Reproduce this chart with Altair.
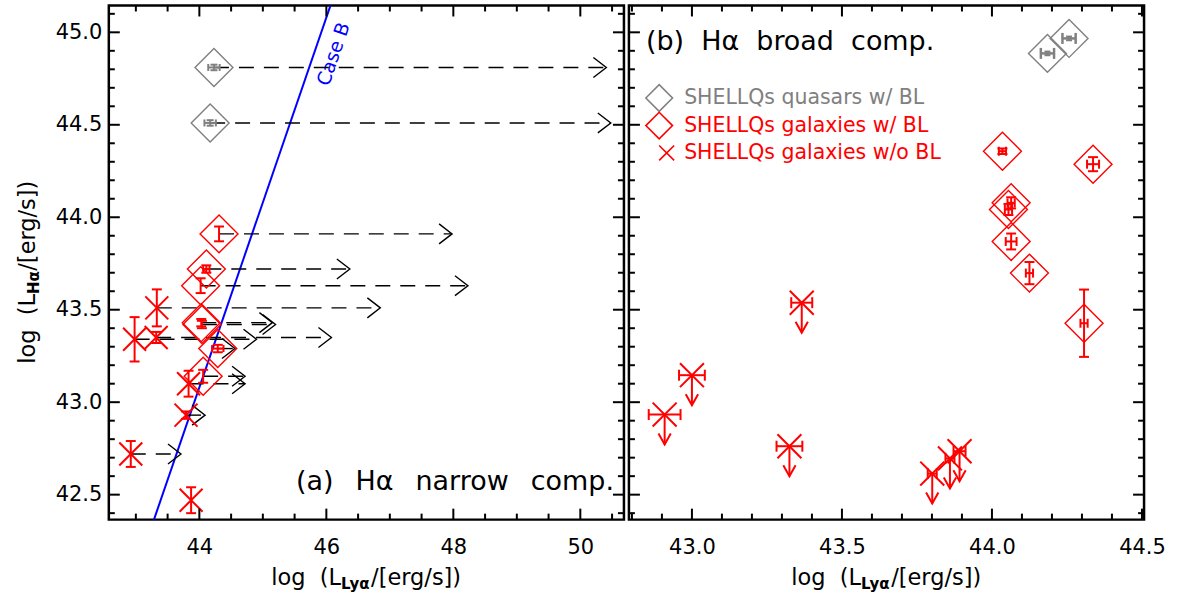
import altair as alt
import pandas as pd

# ---------------- panel (a): H-alpha narrow component ----------------
qso_a_lya = [44.23, 44.17]
qso_a_lya_err = [0.09, 0.09]
qso_a_ha = [44.81, 44.51]
qso_a_ha_err = [0.015, 0.015]
qso_a_lya_corr = [50.41, 50.48]

gbl_a_lya = [44.31, 44.11, 44.02, 44.04, 44.03, 44.29, 44.06]
gbl_a_lya_err = [0.0, 0.05, 0.0, 0.0, 0.0, 0.09, 0.0]
gbl_a_ha = [43.91, 43.72, 43.63, 43.42, 43.43, 43.29, 43.14]
gbl_a_ha_err = [0.04, 0.02, 0.04, 0.02, 0.02, 0.02, 0.035]
gbl_a_lya_corr = [47.98, 46.37, 48.23, 45.20, 45.15, 44.56, 44.72]

gnb_a_lya = [43.33, 42.98, 43.32, 43.83, 43.79, 42.92, 43.87]
gnb_a_ha = [43.51, 43.34, 43.35, 43.10, 42.93, 42.72, 42.47]
gnb_a_ha_err = [0.10, 0.12, 0.03, 0.07, 0.02, 0.07, 0.07]
gnb_a_lya_corr = [46.85, 44.90, 46.08, 44.72, 44.09, 43.71, None]

caseb_lya = [43.0, 46.5]
caseb_ha = [42.08, 45.58]

# ---------------- panel (b): H-alpha broad component ----------------
qso_b_lya = [44.185, 44.257]
qso_b_lya_err = [0.022, 0.022]
qso_b_ha = [44.886, 44.967]
qso_b_ha_err = [0.01, 0.01]

gbl_b_lya = [44.035, 44.337, 44.064, 44.055, 44.064, 44.125, 44.307]
gbl_b_lya_err = [0.012, 0.02, 0.012, 0.012, 0.018, 0.012, 0.012]
gbl_b_ha = [44.357, 44.287, 44.078, 44.042, 43.869, 43.698, 43.427]
gbl_b_ha_err = [0.015, 0.038, 0.03, 0.03, 0.043, 0.06, 0.182]

gnb_b_lya = [42.909, 43.000, 43.366, 43.325, 43.801, 43.860, 43.892]
gnb_b_lya_err = [0.053, 0.043, 0.035, 0.043, 0.015, 0.015, 0.02]
gnb_b_ha_ul = [42.933, 43.146, 43.538, 42.762, 42.614, 42.696, 42.735]

# ---------------- axes ----------------
xa_domain = [42.574, 50.687]
xb_domain = [42.79, 44.507]
y_domain = [42.365, 45.145]
xa_major = [44, 46, 48, 50]
xa_minor = [43.0, 43.5, 44.5, 45.0, 45.5, 46.5, 47.0, 47.5, 48.5, 49.0, 49.5, 50.5]
xb_major = [43.0, 43.5, 44.0, 44.5]
xb_minor = [42.8, 42.9, 43.1, 43.2, 43.3, 43.4, 43.6, 43.7, 43.8, 43.9,
            44.1, 44.2, 44.3, 44.4]
y_major = [42.5, 43.0, 43.5, 44.0, 44.5, 45.0]
y_minor = [42.4, 42.6, 42.7, 42.8, 42.9, 43.1, 43.2, 43.3, 43.4, 43.6, 43.7,
           43.8, 43.9, 44.1, 44.2, 44.3, 44.4, 44.6, 44.7, 44.8, 44.9, 45.1]

# ---------------- styles ----------------
W, H = 516, 515
RED, GRAY, BLUE, BLACK = "#ff0000", "#808080", "#0000ff", "#000000"
FONT = "DejaVu Sans"
X_SHAPE = "M-1,-1L1,1M-1,1L1,-1"
RIGHT_HEAD = "M-1,-0.77L0,0L-1,0.77"
DOWN_HEAD = "M-0.56,-1L0,0L0.56,-1"
UL_LEN = 0.162
NB = "\u00a0"
EN = "\u2002"

sy = alt.Scale(domain=y_domain, nice=False, zero=False)


def axis_x(values, fmt):
    return alt.Axis(values=values, format=fmt, title=None, ticks=False, tickSize=0,
                    domain=False, grid=False, labelPadding=28, labelBaseline="middle",
                    labelFontSize=21, labelFont=FONT, labelColor=BLACK, labelFlush=False)


ax_y = alt.Axis(values=y_major, format=".1f", title=None, ticks=False, tickSize=0,
                domain=False, grid=False, labelPadding=7, labelFontSize=21,
                labelFont=FONT, labelColor=BLACK, labelFlush=False)


class Panel:
    def __init__(self, xdom, xaxis, yaxis):
        self.sx = alt.Scale(domain=xdom, nice=False, zero=False)
        self.xaxis = xaxis
        self.yaxis = yaxis

    def X(self, f):
        return alt.X(f, type="quantitative", scale=self.sx, axis=self.xaxis)

    def Y(self, f):
        return alt.Y(f, type="quantitative", scale=sy, axis=self.yaxis)


def v_err(p, d, x, y, e, color, cap, sw=2.0):
    d = d[d[e] > 0].copy()
    d["lo"] = d[y] - d[e]
    d["hi"] = d[y] + d[e]
    bar = alt.Chart(d).mark_rule(color=color, strokeWidth=sw).encode(
        x=p.X(x), y=p.Y("lo"), y2="hi")
    caps = pd.DataFrame({x: list(d[x]) * 2, "v": list(d["lo"]) + list(d["hi"])})
    tk = alt.Chart(caps).mark_tick(orient="horizontal", size=cap, thickness=sw,
                                   color=color, opacity=1).encode(x=p.X(x), y=p.Y("v"))
    return [bar, tk]


def h_err(p, d, x, y, e, color, cap, sw=2.0):
    d = d[d[e] > 0].copy()
    d["lo"] = d[x] - d[e]
    d["hi"] = d[x] + d[e]
    bar = alt.Chart(d).mark_rule(color=color, strokeWidth=sw).encode(
        x=p.X("lo"), x2="hi", y=p.Y(y))
    caps = pd.DataFrame({y: list(d[y]) * 2, "v": list(d["lo"]) + list(d["hi"])})
    tk = alt.Chart(caps).mark_tick(orient="vertical", size=cap, thickness=sw,
                                   color=color, opacity=1).encode(x=p.X("v"), y=p.Y(y))
    return [bar, tk]


def markers(p, d, x, y, shape, color, size, sw):
    return alt.Chart(d).mark_point(shape=shape, filled=False, size=size, strokeWidth=sw,
                                   color=color, opacity=1).encode(x=p.X(x), y=p.Y(y))


def ptext(text, x, y, **kw):
    return alt.Chart(pd.DataFrame({"t": [text]})).mark_text(font=FONT, **kw).encode(
        x=alt.value(x), y=alt.value(y), text="t")


def frame_ticks(p, xmaj, xmin, ymaj, ymin):
    out = []
    for vals, ln in ((xmaj, 11), (xmin, 6)):
        d = pd.DataFrame({"v": vals})
        out.append(alt.Chart(d).mark_rule(color=BLACK, strokeWidth=2).encode(
            x=p.X("v"), y=alt.value(H), y2=alt.value(H - ln)))
        out.append(alt.Chart(d).mark_rule(color=BLACK, strokeWidth=2).encode(
            x=p.X("v"), y=alt.value(0), y2=alt.value(ln)))
    for vals, ln in ((ymaj, 11), (ymin, 6)):
        d = pd.DataFrame({"v": vals})
        out.append(alt.Chart(d).mark_rule(color=BLACK, strokeWidth=2).encode(
            y=p.Y("v"), x=alt.value(0), x2=alt.value(ln)))
        out.append(alt.Chart(d).mark_rule(color=BLACK, strokeWidth=2).encode(
            y=p.Y("v"), x=alt.value(W), x2=alt.value(W - ln)))
    return out


def bound_rule(x, y0, y1):
    # invisible helper that fixes the layout extent of the page
    return alt.Chart(pd.DataFrame({"a": [0]})).mark_rule(strokeOpacity=0).encode(
        x=alt.value(x), y=alt.value(y0), y2=alt.value(y1))


TY = 573  # baseline of the x-axis titles (view coordinates)


def x_title(sub):
    return [
        ptext("log" + NB + NB + "(L", 258, TY, fontSize=22.5, align="left", dx=-95.35, color=BLACK),
        ptext(sub, 258, TY, fontSize=15, fontWeight="bold", align="left", dx=-25.45, dy=6, color=BLACK),
        ptext("/[erg/s])", 258, TY, fontSize=22.5, align="left", dx=4.75, color=BLACK),
    ]


# ======================= panel (a) =======================
pa = Panel(xa_domain, axis_x(xa_major, "d"), ax_y)
qa = pd.DataFrame({"lya": qso_a_lya, "lerr": qso_a_lya_err, "ha": qso_a_ha,
                   "herr": qso_a_ha_err, "end": qso_a_lya_corr})
ga = pd.DataFrame({"lya": gbl_a_lya, "lerr": gbl_a_lya_err, "ha": gbl_a_ha,
                   "herr": gbl_a_ha_err, "end": gbl_a_lya_corr})
na = pd.DataFrame({"lya": gnb_a_lya, "ha": gnb_a_ha, "herr": gnb_a_ha_err,
                   "end": gnb_a_lya_corr})
arrows_a = pd.concat([qa[["lya", "ha", "end"]], ga[["lya", "ha", "end"]],
                      na[["lya", "ha", "end"]]]).dropna()

la = []
la.append(alt.Chart(pd.DataFrame({"lya": caseb_lya, "ha": caseb_ha})).mark_line(
    color=BLUE, strokeWidth=2, clip=True).encode(x=pa.X("lya"), y=pa.Y("ha")))
la.append(ptext("Case B", 225.3, 48.7, fontSize=19, angle=289, align="center",
                baseline="middle", color=BLUE))
la.append(alt.Chart(arrows_a).mark_rule(color=BLACK, strokeWidth=1.4, strokeDash=[15, 10]).encode(
    x=pa.X("lya"), x2="end", y=pa.Y("ha")))
la.append(alt.Chart(arrows_a).mark_point(shape=RIGHT_HEAD, filled=False, size=676, strokeWidth=1.4,
                                         color=BLACK, opacity=1).encode(x=pa.X("end"), y=pa.Y("ha")))
la += h_err(pa, qa, "lya", "ha", "lerr", GRAY, 7)
la += v_err(pa, qa, "lya", "ha", "herr", GRAY, 7)
la.append(markers(pa, qa, "lya", "ha", "diamond", GRAY, 1444, 1.4))
la += h_err(pa, ga, "lya", "ha", "lerr", RED, 7)
la += v_err(pa, ga, "lya", "ha", "herr", RED, 10)
la.append(markers(pa, ga, "lya", "ha", "diamond", RED, 1444, 1.4))
la += v_err(pa, na, "lya", "ha", "herr", RED, 10)
la.append(markers(pa, na, "lya", "ha", X_SHAPE, RED, 529, 2))
la.append(ptext("(a)" + EN + NB + "H\u03b1" + EN + NB + "narrow" + EN + NB + "comp.", 506, 477,
                fontSize=27, align="right", baseline="middle", color=BLACK))
la += frame_ticks(pa, xa_major, xa_minor, y_major, y_minor)
la += x_title("Ly\u03b1")
# y-axis title (rotated)
YX, YC = -81, 267
la += [
    ptext("log" + NB + NB + "(L", YX, YC, fontSize=22.5, angle=270, align="left", dx=-91.95, color=BLACK),
    ptext("H\u03b1", YX, YC, fontSize=15, fontWeight="bold", angle=270, align="left",
          dx=-22.05, dy=6, color=BLACK),
    ptext("/[erg/s])", YX, YC, fontSize=22.5, angle=270, align="left", dx=1.35, color=BLACK),
]
la.append(bound_rule(-107, -3, 591))

left = alt.layer(*la).properties(width=W, height=H)

# ======================= panel (b) =======================
pb = Panel(xb_domain, axis_x(xb_major, ".1f"), None)
qb = pd.DataFrame({"lya": qso_b_lya, "lerr": qso_b_lya_err, "ha": qso_b_ha, "herr": qso_b_ha_err})
gb = pd.DataFrame({"lya": gbl_b_lya, "lerr": gbl_b_lya_err, "ha": gbl_b_ha, "herr": gbl_b_ha_err})
nb = pd.DataFrame({"lya": gnb_b_lya, "lerr": gnb_b_lya_err, "ha": gnb_b_ha_ul})
nb["tip"] = nb["ha"] - UL_LEN

lb = []
lb += h_err(pb, qb, "lya", "ha", "lerr", GRAY, 11, 2.5)
lb += v_err(pb, qb, "lya", "ha", "herr", GRAY, 6)
lb.append(markers(pb, qb, "lya", "ha", "diamond", GRAY, 1444, 1.4))
lb += h_err(pb, gb, "lya", "ha", "lerr", RED, 9)
lb += v_err(pb, gb, "lya", "ha", "herr", RED, 10)
lb.append(markers(pb, gb, "lya", "ha", "diamond", RED, 1444, 1.4))
lb += h_err(pb, nb, "lya", "ha", "lerr", RED, 11)
lb.append(alt.Chart(nb).mark_rule(color=RED, strokeWidth=2).encode(
    x=pb.X("lya"), y=pb.Y("ha"), y2="tip"))
lb.append(alt.Chart(nb).mark_point(shape=DOWN_HEAD, filled=False, size=484, strokeWidth=2,
                                   color=RED, opacity=1).encode(x=pb.X("lya"), y=pb.Y("tip")))
lb.append(markers(pb, nb, "lya", "ha", X_SHAPE, RED, 576, 2))
lb.append(ptext("(b)" + NB + NB + "H\u03b1" + NB + NB + "broad" + NB + NB + "comp.", 17, 37,
                fontSize=27, align="left", baseline="middle", color=BLACK))
# legend
legend_items = [("diamond", GRAY, 713, 30.3, 92.7, "SHELLQs quasars w/ BL"),
                ("diamond", RED, 713, 30.3, 120.3, "SHELLQs galaxies w/ BL"),
                (X_SHAPE, RED, 225, 37.8, 147.7, "SHELLQs galaxies w/o BL")]
for shp, col, sz, lx, ly, lab in legend_items:
    lb.append(alt.Chart(pd.DataFrame({"a": [0]})).mark_point(
        shape=shp, filled=False, size=sz, strokeWidth=1.6, color=col, opacity=1).encode(
        x=alt.value(lx), y=alt.value(ly)))
    lb.append(ptext(lab, 55.3, ly, fontSize=20.5, align="left", baseline="middle", color=col))
lb += frame_ticks(pb, xb_major, xb_minor, y_major, y_minor)
lb += x_title("Ly\u03b1")
lb.append(bound_rule(0, -3, 591))

right = alt.layer(*lb).properties(width=W, height=H)

chart = alt.hconcat(left, right, spacing=5, bounds="flush").properties(
    padding={"left": 0, "top": 0, "right": 10, "bottom": 0}
).configure_view(stroke=BLACK, strokeWidth=2.5).configure_axis(labelFont=FONT, labelColor=BLACK)

chart.save("out.html", embed_options={"renderer": "svg", "actions": False})
